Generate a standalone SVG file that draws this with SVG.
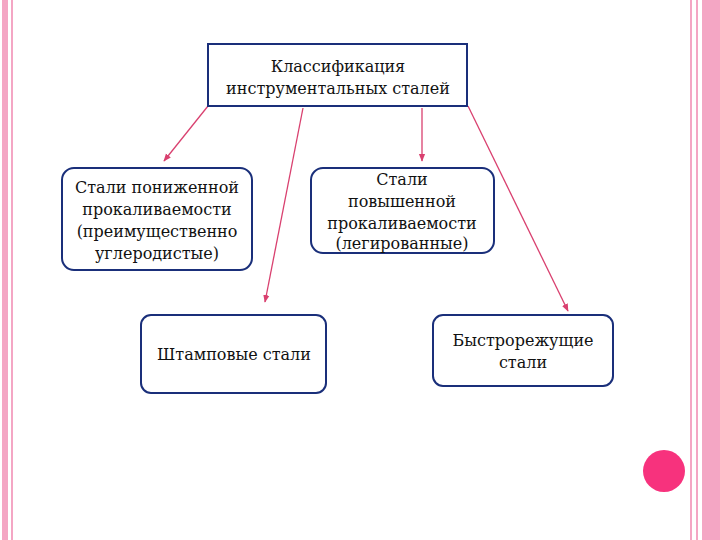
<svg xmlns="http://www.w3.org/2000/svg" width="720" height="540" viewBox="0 0 720 540">
<style>
.b{fill:#fff;stroke:#1a2f7a;stroke-width:2}
.t{font-family:"DejaVu Serif","Liberation Serif",serif;font-size:16px;fill:#111;text-anchor:middle}
.c{stroke:#d9406f;stroke-width:1.3;fill:none;marker-end:url(#a)}
</style>
<defs><marker id="a" viewBox="0 0 10 10" refX="9" refY="5" markerWidth="6" markerHeight="6" orient="auto"><path d="M0,1 L10,5 L0,9 z" fill="#d9406f"/></marker></defs>
<rect width="720" height="540" fill="#fff"/>
<rect x="2" y="0" width="6" height="540" fill="#f4a6c4"/>
<rect x="11" y="0" width="2" height="540" fill="#f4a6c4"/>
<rect x="690" y="0" width="2" height="540" fill="#f4a6c4"/>
<rect x="696" y="0" width="2" height="540" fill="#f4a6c4"/>
<rect x="702" y="0" width="18" height="540" fill="#f4a6c4"/>
<circle cx="664" cy="471" r="21" fill="#f7327d"/>
<g id="connectors">
<line class="c" x1="208" y1="106" x2="164" y2="161"/>
<line class="c" x1="303" y1="108" x2="265" y2="302"/>
<line class="c" x1="422" y1="108" x2="422" y2="161"/>
<line class="c" x1="468" y1="106" x2="568" y2="311"/>
</g>
<g id="root"><rect class="b" x="208" y="44" width="259" height="62"/>
<text class="t" x="338" y="72">Классификация</text><text class="t" x="338" y="94">инструментальных сталей</text></g>
<g id="low"><rect class="b" x="62" y="168" width="190" height="102" rx="12"/>
<text class="t" x="157" y="193">Стали пониженной</text><text class="t" x="157" y="215">прокаливаемости</text><text class="t" x="157" y="237">(преимущественно</text><text class="t" x="157" y="259">углеродистые)</text></g>
<g id="high"><rect class="b" x="311" y="168" width="183" height="85" rx="12"/>
<text class="t" x="402" y="185">Стали</text><text class="t" x="402" y="207">повышенной</text><text class="t" x="402" y="229">прокаливаемости</text><text class="t" x="402" y="249">(легированные)</text></g>
<g id="stamp"><rect class="b" x="141" y="315" width="185" height="78" rx="10"/>
<text class="t" x="234" y="360">Штамповые стали</text></g>
<g id="fast"><rect class="b" x="433" y="315" width="180" height="71" rx="10"/>
<text class="t" x="523" y="346">Быстрорежущие</text><text class="t" x="523" y="368">стали</text></g>
</svg>
